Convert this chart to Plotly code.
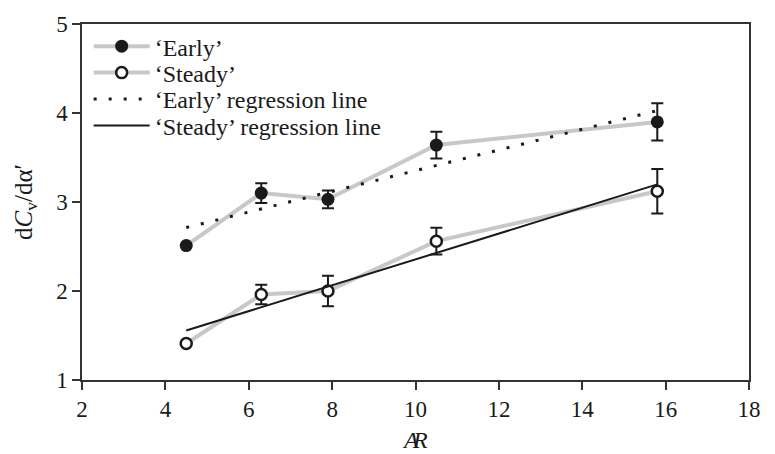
import numpy as np
import plotly.graph_objects as go

# Aspect ratio values and lift-slope data
aspect_ratio = [4.5, 6.3, 7.9, 10.5, 15.8]
early_slope = [2.51, 3.10, 3.03, 3.64, 3.90]
early_err = [0.0, 0.11, 0.10, 0.15, 0.21]
steady_slope = [1.41, 1.96, 2.00, 2.56, 3.12]
steady_err = [0.0, 0.11, 0.17, 0.15, 0.25]

x_ticks = [2, 4, 6, 8, 10, 12, 14, 16, 18]
y_ticks = [1, 2, 3, 4, 5]

FONT = "Liberation Serif"
INK = "#1a1a1a"
GREY = "#c8c8c8"

# Least-squares fits drawn across the measured span
xs = np.array(aspect_ratio)
fit_x = [xs.min(), xs.max()]
e_m, e_b = np.polyfit(xs, early_slope, 1)
s_m, s_b = np.polyfit(xs, steady_slope, 1)
early_fit = [e_m * v + e_b for v in fit_x]
steady_fit = [s_m * v + s_b for v in fit_x]

err_style = dict(type="data", visible=True, color=INK, thickness=2, width=6)

fig = go.Figure()
fig.add_trace(go.Scatter(
    x=aspect_ratio, y=early_slope, mode="lines+markers", name="‘Early’",
    legend="legend",
    line=dict(color=GREY, width=4),
    marker=dict(symbol="circle", size=13, color=INK, line=dict(width=0)),
    error_y=dict(array=early_err, **err_style),
))
fig.add_trace(go.Scatter(
    x=aspect_ratio, y=steady_slope, mode="lines+markers", name="‘Steady’",
    legend="legend2",
    line=dict(color=GREY, width=4),
    marker=dict(symbol="circle", size=11, color="white", line=dict(width=2.5, color=INK)),
    error_y=dict(array=steady_err, **err_style),
))
fig.add_trace(go.Scatter(
    x=fit_x, y=early_fit, mode="lines", name="‘Early’ regression line",
    legend="legend3",
    line=dict(color=INK, width=3, dash="3px,12px"),
))
fig.add_trace(go.Scatter(
    x=fit_x, y=steady_fit, mode="lines", name="‘Steady’ regression line",
    legend="legend4",
    line=dict(color=INK, width=2),
))

axis_common = dict(
    showline=True, linecolor="#333333", linewidth=1.5, mirror=True,
    ticks="outside", ticklen=8, tickwidth=1.5, tickcolor="#333333",
    showgrid=False, zeroline=False,
    tickfont=dict(family=FONT, size=23, color=INK),
)


def legend_row(ypos):
    # one legend box per row, so the rows can sit closer than the default spacing
    return dict(
        x=0.01, y=ypos, xanchor="left", yanchor="middle",
        bgcolor="rgba(0,0,0,0)", borderwidth=0,
        font=dict(family=FONT, size=24, color=INK),
        itemwidth=56,
    )


fig.update_layout(
    width=775, height=454,
    margin=dict(l=82, r=26, t=17, b=74),
    paper_bgcolor="white", plot_bgcolor="white",
    font=dict(family=FONT, size=24, color=INK),
    showlegend=True,
    legend=legend_row(0.9367),
    legend2=legend_row(0.8623),
    legend3=legend_row(0.7879),
    legend4=legend_row(0.7135),
    xaxis=dict(range=[2, 18], tickvals=x_ticks, **axis_common),
    yaxis=dict(range=[1, 5], tickvals=y_ticks, **axis_common),
)

# Axis titles
fig.add_annotation(
    text="d<i>C</i><sub>v</sub>/dα′", textangle=-90,
    xref="paper", yref="paper", x=-0.0855, y=0.5,
    xanchor="center", yanchor="middle", showarrow=False,
    font=dict(family=FONT, size=25, color=INK),
)
fig.add_annotation(
    text="<i>A</i>", xref="x", yref="paper", x=10, y=0,
    xshift=-5, yshift=-60, xanchor="center", yanchor="middle", showarrow=False,
    font=dict(family=FONT, size=24, color=INK),
)
fig.add_annotation(
    text="<i>R</i>", xref="x", yref="paper", x=10, y=0,
    xshift=4, yshift=-60, xanchor="center", yanchor="middle", showarrow=False,
    font=dict(family=FONT, size=24, color=INK),
)

fig.write_html("out.html")
